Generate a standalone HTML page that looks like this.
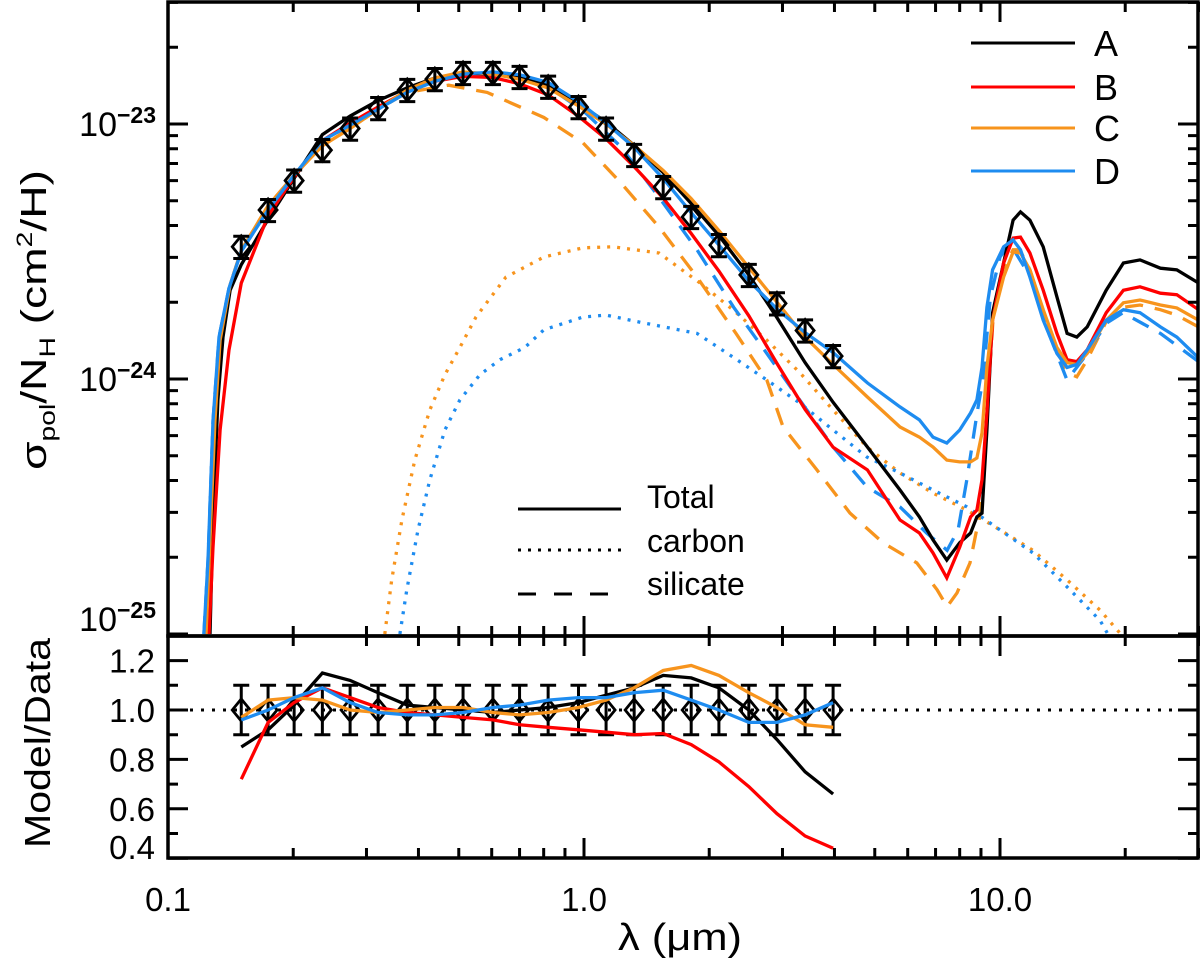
<!DOCTYPE html>
<html><head><meta charset="utf-8"><style>
html,body{margin:0;padding:0;background:#fff;}
svg{display:block;font-family:"Liberation Sans",sans-serif;}
</style></head><body>
<svg id="chart" width="1200" height="964" viewBox="0 0 1200 964">
<defs>
<clipPath id="clipTop"><rect x="168" y="2" width="1030" height="634"/></clipPath>
<clipPath id="clipBot"><rect x="168" y="636" width="1030" height="222"/></clipPath>
</defs>
<g id="gTop" clip-path="url(#clipTop)"></g>
<g id="gBot" clip-path="url(#clipBot)"></g>
<g id="gAxes"></g>
<g font-size="36">
  <line x1="971" y1="43" x2="1075" y2="43" stroke="#000" stroke-width="3"/>
  <text x="1094" y="56">A</text>
  <line x1="971" y1="87" x2="1075" y2="87" stroke="#f00" stroke-width="3"/>
  <text x="1094" y="100">B</text>
  <line x1="971" y1="128" x2="1075" y2="128" stroke="#f7941d" stroke-width="3"/>
  <text x="1094" y="141">C</text>
  <line x1="971" y1="171" x2="1075" y2="171" stroke="#1e8cf0" stroke-width="3"/>
  <text x="1094" y="184">D</text>
</g>
<g font-size="32">
  <line x1="518" y1="509" x2="621" y2="509" stroke="#000" stroke-width="3"/>
  <text x="647" y="508">Total</text>
  <line x1="518" y1="550" x2="621" y2="550" stroke="#000" stroke-width="3" stroke-dasharray="3 7"/>
  <text x="647" y="552">carbon</text>
  <line x1="518" y1="594" x2="621" y2="594" stroke="#000" stroke-width="3" stroke-dasharray="18 18"/>
  <text x="647" y="595">silicate</text>
</g>
<text transform="translate(46,320) rotate(-90)" text-anchor="middle" font-size="36" textLength="300" lengthAdjust="spacingAndGlyphs">σ<tspan font-size="22" dy="9">pol</tspan><tspan dy="-9">/N</tspan><tspan font-size="22" dy="9">H</tspan><tspan dy="-9"> (cm</tspan><tspan font-size="22" dy="-14">2</tspan><tspan dy="14">/H)</tspan></text>
<text transform="translate(50,743) rotate(-90)" text-anchor="middle" font-size="36" textLength="210" lengthAdjust="spacingAndGlyphs">Model/Data</text>
<text x="680" y="950" text-anchor="middle" font-size="38" textLength="124" lengthAdjust="spacingAndGlyphs">λ (μm)</text>
</svg>
<script>
// ---- data (values in units of 1e-24 cm^2/H) ----
const dataLam = [0.150,0.174,0.201,0.235,0.274,0.32,0.376,0.438,0.512,0.604,0.70,0.82,0.97,1.13,1.32,1.55,1.81,2.11,2.49,2.91,3.4,3.97];
const dataVal = [3.3,4.6,6.0,7.9,9.6,11.55,13.6,15.0,15.85,15.85,15.3,14.0,11.65,9.6,7.56,5.66,4.32,3.35,2.56,1.98,1.55,1.23];
const dataErrFrac = 0.1;

const lamA = [0.1262,0.1283,0.1318,0.1356,0.141,0.150,0.174,0.201,0.235,0.274,0.32,0.376,0.438,0.512,0.604,0.70,0.82,0.97,1.13,1.32,1.55,1.81,2.11,2.49,2.91,3.4,3.97,4.8,5.75,6.4,6.9,7.45,8.0,8.5,8.8,9.05,9.3,9.6,10.2,10.75,11.2,11.8,12.7,13.7,14.5,15.3,16.2,18,19.8,21.7,24.3,26.6,30];
const valA = [0.10,0.28,0.83,1.46,2.23,2.81,4.23,6.12,9.09,10.75,12.36,13.87,15.15,15.85,15.69,15.3,14.14,12.0,10.18,8.24,6.45,4.88,3.65,2.56,1.74,1.16,0.81,0.541,0.367,0.288,0.234,0.195,0.228,0.249,0.288,0.298,0.631,1.82,2.85,4.20,4.52,4.20,3.30,2.10,1.51,1.46,1.60,2.23,2.85,2.93,2.72,2.68,2.38];
const lamB = [0.1255,0.1283,0.1334,0.1402,0.150,0.174,0.201,0.235,0.274,0.32,0.376,0.438,0.512,0.604,0.70,0.82,0.97,1.13,1.32,1.55,1.81,2.11,2.49,2.91,3.4,3.97,4.8,5.75,6.4,6.9,7.45,8.0,8.5,8.8,9.05,9.3,9.6,10.2,10.75,11.2,11.8,12.7,13.7,14.5,15.3,16.2,18,19.8,21.7,24.3,26.6,30];
const valB = [0.10,0.219,0.631,1.30,2.38,4.37,6.18,8.61,10.08,11.67,13.46,14.7,15.37,15.22,14.38,13.02,10.72,8.74,6.80,5.12,3.72,2.65,1.77,1.15,0.76,0.54,0.440,0.280,0.249,0.208,0.166,0.219,0.288,0.306,0.402,0.736,1.70,2.85,3.57,3.60,3.12,2.23,1.51,1.19,1.17,1.30,1.82,2.23,2.30,2.17,2.14,1.87];
const lamC = [0.1234,0.1262,0.1297,0.1334,0.141,0.150,0.174,0.201,0.235,0.274,0.32,0.376,0.438,0.512,0.604,0.70,0.82,0.97,1.13,1.32,1.55,1.81,2.11,2.49,2.91,3.4,3.97,4.8,5.75,6.4,6.9,7.45,8.0,8.5,8.8,9.05,9.3,9.6,10.2,10.75,11.2,11.8,12.7,13.7,14.5,15.3,16.2,18,19.8,21.7,24.3,26.6,30];
const valC = [0.10,0.234,0.691,1.42,2.34,3.20,4.78,6.30,8.22,9.6,11.43,13.6,15.15,16.0,15.69,14.99,13.86,11.77,9.98,8.24,6.57,5.10,3.82,2.74,2.0,1.46,1.14,0.850,0.648,0.592,0.541,0.481,0.473,0.473,0.490,0.614,1.11,1.70,2.51,3.15,3.12,2.68,1.87,1.33,1.16,1.14,1.26,1.70,1.99,2.04,1.95,1.90,1.70];
const lamD = [0.122,0.1248,0.1283,0.1326,0.1402,0.150,0.174,0.201,0.235,0.274,0.32,0.376,0.438,0.512,0.604,0.70,0.82,0.97,1.13,1.32,1.55,1.81,2.11,2.49,2.91,3.4,3.97,4.8,5.75,6.4,6.9,7.45,8.0,8.5,8.8,9.05,9.3,9.6,10.2,10.75,11.2,11.8,12.7,13.7,14.5,15.3,16.2,18,19.8,21.7,24.3,26.6,30];
const valD = [0.10,0.195,0.685,1.46,2.27,3.17,4.6,6.3,8.61,9.89,11.43,13.33,14.7,15.69,16.0,15.61,14.56,12.23,10.08,8.09,6.11,4.49,3.35,2.43,1.88,1.52,1.27,0.965,0.777,0.691,0.592,0.561,0.631,0.736,0.828,1.11,1.91,2.68,3.30,3.51,3.21,2.51,1.70,1.26,1.11,1.14,1.30,1.70,1.87,1.82,1.60,1.46,1.21];

const lamSilC = [0.1234,0.1262,0.1297,0.1334,0.141,0.15,0.174,0.201,0.235,0.274,0.32,0.376,0.473,0.585,0.801,0.995,1.227,1.514,1.869,2.319,2.75,3.01,3.63,4.36,5.23,6.31,7.06,7.46,7.88,8.47,8.95,9.30,9.62,10.17,10.75,11.16,11.8,12.68,13.7,14.49,15.3,16.2,18.07,19.76,21.7,24.3,26.6,30];
const valSilC = [0.10,0.234,0.691,1.42,2.34,3.20,4.78,6.30,8.22,9.6,11.43,13.3,14.2,13.3,10.6,8.42,5.87,3.95,2.51,1.51,0.991,0.648,0.440,0.298,0.228,0.190,0.149,0.128,0.145,0.190,0.298,0.736,1.70,2.68,3.21,3.21,2.68,1.87,1.30,1.06,1.02,1.19,1.70,1.91,1.95,1.87,1.78,1.60];
const lamSilD = [0.122,0.1248,0.1283,0.1326,0.1402,0.15,0.174,0.201,0.235,0.274,0.32,0.376,0.438,0.512,0.604,0.70,0.82,1.0,1.227,1.514,1.869,2.29,2.75,3.30,3.97,4.79,5.75,6.66,7.46,7.93,8.32,8.81,9.09,9.48,10.0,10.55,11.96,13.1,14.49,15.8,18.07,19.76,24.3,30];
const valSilD = [0.10,0.195,0.685,1.46,2.27,3.17,4.6,6.3,8.61,9.89,11.43,13.33,14.7,15.69,15.8,15.2,14.0,11.2,8.13,5.17,3.21,1.91,1.26,0.828,0.541,0.377,0.315,0.249,0.213,0.256,0.402,0.736,0.991,2.10,3.01,3.41,2.44,1.51,0.991,1.19,1.66,1.82,1.51,1.17];
const lamCarC = [0.332,0.345,0.365,0.392,0.426,0.463,0.503,0.550,0.649,0.801,0.995,1.174,1.514,1.9,2.28,2.75,3.30,3.97,4.79,5.75,6.90,8.33,10.0,12.0,14.5,17.4,19.4];
const valCarC = [0.10,0.163,0.280,0.481,0.756,1.04,1.33,1.75,2.51,3.01,3.27,3.30,3.12,2.38,1.87,1.42,1.06,0.756,0.541,0.428,0.357,0.306,0.256,0.213,0.163,0.124,0.101];
const lamCarD = [0.361,0.375,0.399,0.426,0.463,0.503,0.562,0.628,0.721,0.801,0.995,1.13,1.364,1.869,2.28,2.75,3.30,3.97,4.79,5.75,6.90,8.33,10.0,12.0,14.5,17.4,18.1];
const valCarD = [0.10,0.149,0.256,0.402,0.631,0.828,1.04,1.19,1.33,1.56,1.75,1.78,1.67,1.51,1.22,0.991,0.805,0.631,0.494,0.428,0.367,0.315,0.256,0.208,0.153,0.113,0.101];

// model / data ratios at the data wavelengths
const ratioA = [0.85,0.92,1.02,1.15,1.12,1.07,1.02,1.01,1.0,0.99,1.0,1.01,1.03,1.06,1.09,1.14,1.13,1.09,1.0,0.88,0.75,0.66];
const ratioB = [0.72,0.95,1.03,1.09,1.05,1.01,0.99,0.98,0.97,0.96,0.94,0.93,0.92,0.91,0.90,0.905,0.86,0.79,0.69,0.58,0.49,0.44];
const ratioC = [0.97,1.04,1.05,1.04,1.0,0.99,1.0,1.01,1.01,0.99,0.98,0.99,1.01,1.04,1.09,1.16,1.18,1.14,1.07,1.01,0.94,0.93];
const ratioD = [0.96,1.0,1.05,1.09,1.03,0.99,0.98,0.98,0.99,1.01,1.02,1.04,1.05,1.05,1.07,1.08,1.04,1.0,0.95,0.95,0.98,1.03];

const xTickMajor = [0.1,1,10];
const xTickLabels = ["0.1","1.0","10.0"];
const yTopMajor = [-25,-24,-23];
const yBotMajor = [0.4,0.6,0.8,1.0,1.2];
const yBotLabels = ["0.4","0.6","0.8","1.0","1.2"];

// ---- scales ----
const PX0=168, PX1=1198, TY0=2, TY1=636, BY0=636, BY1=858;
function X(l){ return PX0 + 416*Math.log10(l/0.1); }
function YT(v){ return 124 - 255*Math.log10(v*1e-24/1e-23); }
function YB(r){ return 710 - 247*(r-1); }

const NS="http://www.w3.org/2000/svg";
const gTop=document.getElementById('gTop'), gBot=document.getElementById('gBot'), gAx=document.getElementById('gAxes');
function mk(tag, attrs, parent){ const e=document.createElementNS(NS,tag); for(const k in attrs) e.setAttribute(k, attrs[k]); parent.appendChild(e); return e; }
function pathFrom(lams, vals, xf, yf){ return lams.map((l,i)=>(i?'L':'M')+xf(l).toFixed(1)+','+yf(vals[i]).toFixed(1)).join(' '); }

const BLACK="#000", RED="#f00", ORANGE="#f7941d", BLUE="#1e8cf0";
const LW=3.3;

let p;
p = mk('path',{d:pathFrom(lamCarC,valCarC,X,YT),fill:'none',stroke:ORANGE,'stroke-width':LW,'stroke-dasharray':'3 7'},gTop);


p = mk('path',{d:pathFrom(lamCarD,valCarD,X,YT),fill:'none',stroke:BLUE,'stroke-width':LW,'stroke-dasharray':'3 7'},gTop);


p = mk('path',{d:pathFrom(lamSilC,valSilC,X,YT),fill:'none',stroke:ORANGE,'stroke-width':LW,'stroke-dasharray':'18 12'},gTop);


p = mk('path',{d:pathFrom(lamSilD,valSilD,X,YT),fill:'none',stroke:BLUE,'stroke-width':LW,'stroke-dasharray':'18 12'},gTop);


p = mk('path',{d:pathFrom(lamA,valA,X,YT),fill:'none',stroke:BLACK,'stroke-width':LW},gTop);


p = mk('path',{d:pathFrom(lamB,valB,X,YT),fill:'none',stroke:RED,'stroke-width':LW},gTop);


p = mk('path',{d:pathFrom(lamC,valC,X,YT),fill:'none',stroke:ORANGE,'stroke-width':LW},gTop);


p = mk('path',{d:pathFrom(lamD,valD,X,YT),fill:'none',stroke:BLUE,'stroke-width':LW},gTop);



function diamond(cx,cy,parent,name){
  const d = mk('path',{d:`M${cx-9},${cy} L${cx},${cy-11} L${cx+9},${cy} L${cx},${cy+11} Z`,fill:'none',stroke:'#000','stroke-width':2.8},parent);
  
  
}
function errbar(cx,y1,y2,parent,name){
  const e = mk('path',{d:`M${cx},${y1} L${cx},${y2} M${cx-8},${y1} L${cx+8},${y1} M${cx-8},${y2} L${cx+8},${y2}`,fill:'none',stroke:'#000','stroke-width':3},parent);
  
  
}
dataLam.forEach((l,i)=>{
  const cx=X(l);
  errbar(cx, YT(dataVal[i]*(1+dataErrFrac)), YT(dataVal[i]*(1-dataErrFrac)), gTop, 'data-errorbar');
  diamond(cx, YT(dataVal[i]), gTop, 'data-point');
});

p = mk('line',{x1:PX0,y1:YB(1),x2:PX1,y2:YB(1),stroke:'#000','stroke-width':3,'stroke-dasharray':'3 8'},gBot);


dataLam.forEach((l,i)=>{
  const cx=X(l);
  errbar(cx, YB(1+dataErrFrac), YB(1-dataErrFrac), gBot, 'ratio-errorbar');
  diamond(cx, YB(1), gBot, 'ratio-point');
});
const ratios=[[ratioA,BLACK,'ratio-curve-a'],[ratioB,RED,'ratio-curve-b'],[ratioC,ORANGE,'ratio-curve-c'],[ratioD,BLUE,'ratio-curve-d']];
ratios.forEach(r=>{
  const q = mk('path',{d:pathFrom(dataLam,r[0],X,YB),fill:'none',stroke:r[1],'stroke-width':LW},gBot);
  
  
});

p = mk('rect',{x:PX0,y:TY0,width:PX1-PX0,height:TY1-TY0,fill:'none',stroke:'#000','stroke-width':3.5},gAx);


p = mk('rect',{x:PX0,y:BY0,width:PX1-PX0,height:BY1-BY0,fill:'none',stroke:'#000','stroke-width':3.5},gAx);



let td='';
for(let dec=0.1; dec<=10; dec*=10){
  for(let k=1;k<=9;k++){
    const l=k*dec; if(l>30.01) break;
    const x=X(l); if(x>PX1+0.5) break;
    const len = (k===1)?20:10;
    td += `M${x},${TY0} L${x},${TY0+len} M${x},${TY1} L${x},${TY1-len} M${x},${BY0} L${x},${BY0+len} M${x},${BY1} L${x},${BY1-len} `;
  }
}
yTopMajor.forEach(e=>{
  for(let k=1;k<=9;k++){
    const v=k*Math.pow(10,e)/1e-24; const y=YT(v);
    if(y<TY0-0.5||y>TY1+0.5) continue;
    const len=(k===1)?20:10;
    td += `M${PX0},${y} L${PX0+len},${y} M${PX1},${y} L${PX1-len},${y} `;
  }
});
for(let r=0.5;r<1.35;r+=0.2){ const y=YB(r); if(y<BY0) continue; td += `M${PX0},${y} L${PX0+10},${y} M${PX1},${y} L${PX1-10},${y} `; }
yBotMajor.forEach(r=>{ const y=YB(r); td += `M${PX0},${y} L${PX0+20},${y} M${PX1},${y} L${PX1-20},${y} `; });
p = mk('path',{d:td,stroke:'#000','stroke-width':3,fill:'none'},gAx);



xTickMajor.forEach((l,i)=>{
  const t = mk('text',{x:X(l),y:911,'text-anchor':'middle','font-size':33},gAx);
  t.textContent = xTickLabels[i];
  
  
});
yTopMajor.forEach(e=>{
  let y = YT(Math.pow(10,e)/1e-24); if(y>620) y=619;
  const t = mk('text',{x:156,y:y+12,'text-anchor':'end','font-size':34},gAx);
  
  
  const a = mk('tspan',{},t); a.textContent='10';
  const b = mk('tspan',{'font-size':23,dy:-13,'font-weight':'bold'},t); b.textContent='−'+Math.abs(e);
});
yBotMajor.forEach((r,i)=>{
  let y = YB(r); if(y>850) y=847;
  const t = mk('text',{x:155,y:y+12,'text-anchor':'end','font-size':33},gAx);
  t.textContent = yBotLabels[i];
  
  
});
</script>
</body></html>
